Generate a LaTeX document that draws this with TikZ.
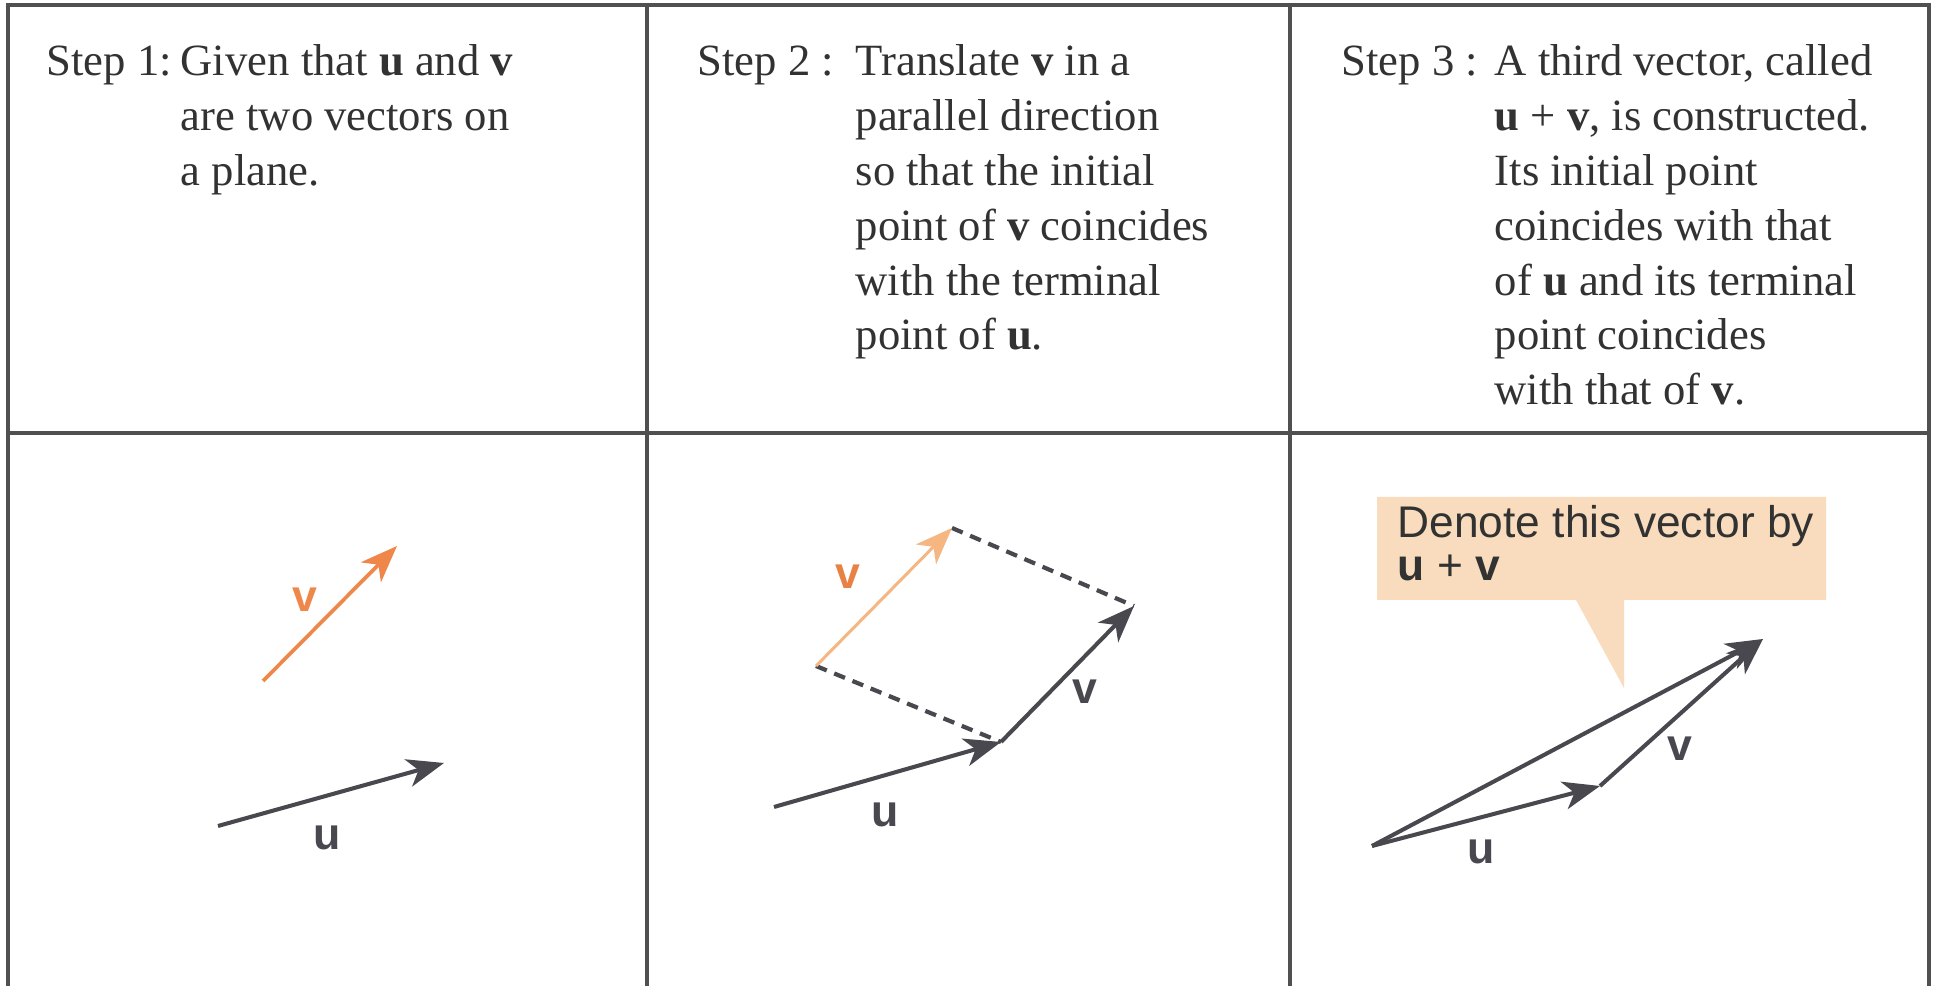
\documentclass[tikz,border=0pt]{standalone}
\usepackage{fontspec}
\setmainfont{Liberation Serif}
\setsansfont{Liberation Sans}
\usetikzlibrary{arrows.meta}
\definecolor{framec}{RGB}{80,80,80}
\definecolor{textc}{RGB}{50,50,50}
\definecolor{darkvec}{RGB}{72,72,78}
\definecolor{orangev}{RGB}{240,135,74}
\definecolor{lightorange}{RGB}{246,182,130}
\definecolor{orangelab}{RGB}{232,130,68}
\definecolor{callfill}{RGB}{248,220,189}
\begin{document}
\begin{tikzpicture}[x=0.01cm,y=-0.01cm,
  framel/.style={draw=framec,line width=1.15pt},
  steplbl/.style={anchor=base west,inner sep=0,text=textc,font=\fontsize{12.7}{15.57}\selectfont},
  stepbody/.style={anchor=base west,inner sep=0,text=textc,font=\fontsize{12.7}{15.57}\selectfont},
  vecdark/.style={draw=darkvec,line width=1.15pt,-{Stealth[length=10.5pt,width=8pt,inset=3pt]}},
  vecorange/.style={draw=orangev,line width=1.05pt,-{Stealth[length=10.5pt,width=8pt,inset=3pt]}},
  veclight/.style={draw=lightorange,line width=0.85pt,-{Stealth[length=10.5pt,width=8pt,inset=3pt]}},
  dashl/.style={draw=darkvec,line width=1.2pt,dash pattern=on 3.3pt off 2.3pt},
  vlab/.style={inner sep=0,font=\sffamily\bfseries\fontsize{12.7}{14}\selectfont},
  calltext/.style={anchor=base west,inner sep=0,text=textc,font=\sffamily\fontsize{12.6}{12.3}\selectfont}
]
\useasboundingbox (0,0) rectangle (1933,986);
\fill[white] (0,0) rectangle (1933,986);
% frame
\draw[framel] (8,986) -- (8,5) -- (1929,5) -- (1929,986);
\draw[framel] (647,5) -- (647,986);
\draw[framel] (1290,5) -- (1290,986);
\draw[framel] (8,433) -- (1929,433);

% texts
\node[steplbl] (s1) at (46,76) {Step 1:};
\node[stepbody] (b1) at (180,76) {\begin{tabular}[t]{@{}l@{}}Given that \textbf{u} and \textbf{v}\\are two vectors on\\a plane.\end{tabular}};
\node[steplbl] (s2) at (697,76) {Step 2 :};
\node[stepbody] (b2) at (855,76) {\begin{tabular}[t]{@{}l@{}}Translate \textbf{v} in a\\parallel direction\\so that the initial\\point of \textbf{v} coincides\\with the terminal\\point of \textbf{u}.\end{tabular}};
\node[steplbl] (s3) at (1341,76) {Step 3 :};
\node[stepbody] (b3) at (1494,76) {\begin{tabular}[t]{@{}l@{}}A third vector, called\\\textbf{u} + \textbf{v}, is constructed.\\Its initial point\\coincides with that\\of \textbf{u} and its terminal\\point coincides\\with that of \textbf{v}.\end{tabular}};

% panel 1
\coordinate (v1t) at (263,681);
\coordinate (v1h) at (397,546);
\coordinate (u1t) at (218,826);
\coordinate (u1h) at (444,763);
\draw[vecorange] (v1t) -- (v1h);
\draw[vecdark] (u1t) -- (u1h);
\node[vlab,text=orangev] (lv1) at (305,600) {v};
\node[vlab,text=darkvec] (lu1) at (327,838) {u};

% panel 2
\coordinate (v2t) at (816,666);
\coordinate (v2h) at (952,528);
\coordinate (u2t) at (774,807);
\coordinate (u2h) at (1001,742);
\coordinate (w2h) at (1134,606);
\draw[dashl] (v2h) -- (w2h);
\draw[dashl] (v2t) -- (u2h);
\draw[veclight] (v2t) -- (v2h);
\draw[vecdark] (u2t) -- (u2h);
\draw[vecdark] (u2h) -- (w2h);
\node[vlab,text=orangelab] (lv2) at (848,577) {v};
\node[vlab,text=darkvec] (lu2) at (885,815) {u};
\node[vlab,text=darkvec] (lw2) at (1085,692) {v};

% panel 3
\fill[callfill] (1377,497) -- (1826,497) -- (1826,600) -- (1624,600) -- (1624,688) -- (1576,600) -- (1377,600) -- cycle;
\node[calltext] (c1) at (1397,538) {Denote this vector by};
\node[calltext] (c2) at (1397,581) {\bfseries u {\mdseries+} v};
\coordinate (o3) at (1372,846);
\coordinate (u3h) at (1600,786);
\coordinate (s3h) at (1763,639);
\draw[vecdark] (o3) -- (s3h);
\draw[vecdark] (o3) -- (u3h);
\draw[vecdark] (u3h) -- (s3h);
\node[vlab,text=darkvec] (lu3) at (1481,852) {u};
\node[vlab,text=darkvec] (lv3) at (1680,749) {v};
\end{tikzpicture}
\end{document}
